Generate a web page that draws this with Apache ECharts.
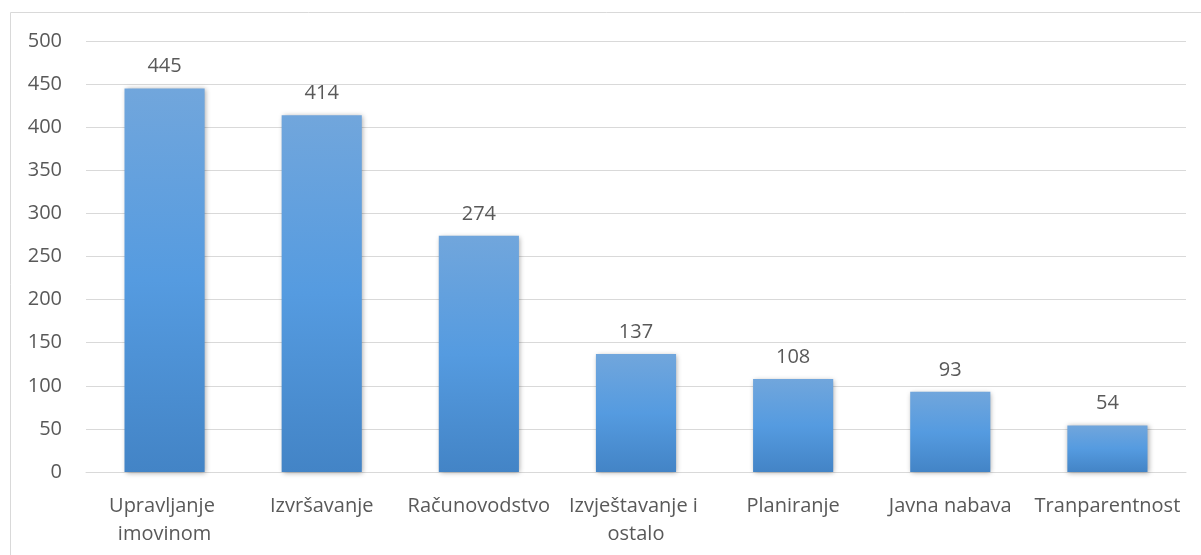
<!DOCTYPE html>
<html>
<head>
<meta charset="utf-8">
<script src="https://cdn.jsdelivr.net/npm/echarts@6/dist/echarts.min.js"></script>
<style>
  html, body { margin: 0; padding: 0; background: #fff; }
</style>
</head>
<body>
<div id="main" style="width: 1201px; height: 555px"></div>
<script>
const categories = ["Upravljanje imovinom", "Izvršavanje", "Računovodstvo", "Izvještavanje i ostalo", "Planiranje", "Javna nabava", "Tranparentnost"];
const values = [445, 414, 274, 137, 108, 93, 54];
const yTicks = { min: 0, max: 500, interval: 50 };

const textColor = "#595959";
const fontFamily = "'Open Sans', sans-serif";

const myChart = echarts.init(document.getElementById("main"));

const option = {
  animation: false,
  textStyle: { fontFamily: fontFamily },
  graphic: [
    {
      type: "rect",
      silent: true,
      shape: { x: 10.5, y: 12.5, width: 1210, height: 560 },
      style: { fill: "none", stroke: "#d9d9d9", lineWidth: 1 },
    },
  ],
  grid: {
    left: 86,
    right: 15,
    top: 41,
    bottom: 83,
  },
  xAxis: {
    type: "category",
    data: categories,
    axisTick: { show: false },
    axisLine: { lineStyle: { color: "#d9d9d9", width: 1 } },
    axisLabel: {
      color: textColor,
      fontSize: 20,
      fontFamily: fontFamily,
      interval: 0,
      margin: 20,
      width: 157,
      overflow: "break",
      lineHeight: 28,
    },
  },
  yAxis: {
    type: "value",
    min: yTicks.min,
    max: yTicks.max,
    interval: yTicks.interval,
    axisLine: { show: false },
    axisTick: { show: false },
    splitLine: { lineStyle: { color: "#d9d9d9", width: 1 } },
    axisLabel: {
      color: textColor,
      fontSize: 20,
      fontFamily: fontFamily,
      margin: 24,
    },
  },
  series: [
    {
      type: "bar",
      data: values,
      barWidth: "51%",
      itemStyle: {
        color: new echarts.graphic.LinearGradient(0, 0, 0, 1, [
          { offset: 0, color: "#71a6dc" },
          { offset: 0.5, color: "#559be0" },
          { offset: 1, color: "#4384c6" },
        ]),
        shadowColor: "rgba(0,0,0,0.35)",
        shadowBlur: 5,
        shadowOffsetX: 1,
        shadowOffsetY: 1,
      },
      label: {
        show: true,
        position: "top",
        distance: 12,
        color: textColor,
        fontSize: 20,
        fontFamily: fontFamily,
      },
    },
  ],
};

myChart.setOption(option);
</script>
</body>
</html>
